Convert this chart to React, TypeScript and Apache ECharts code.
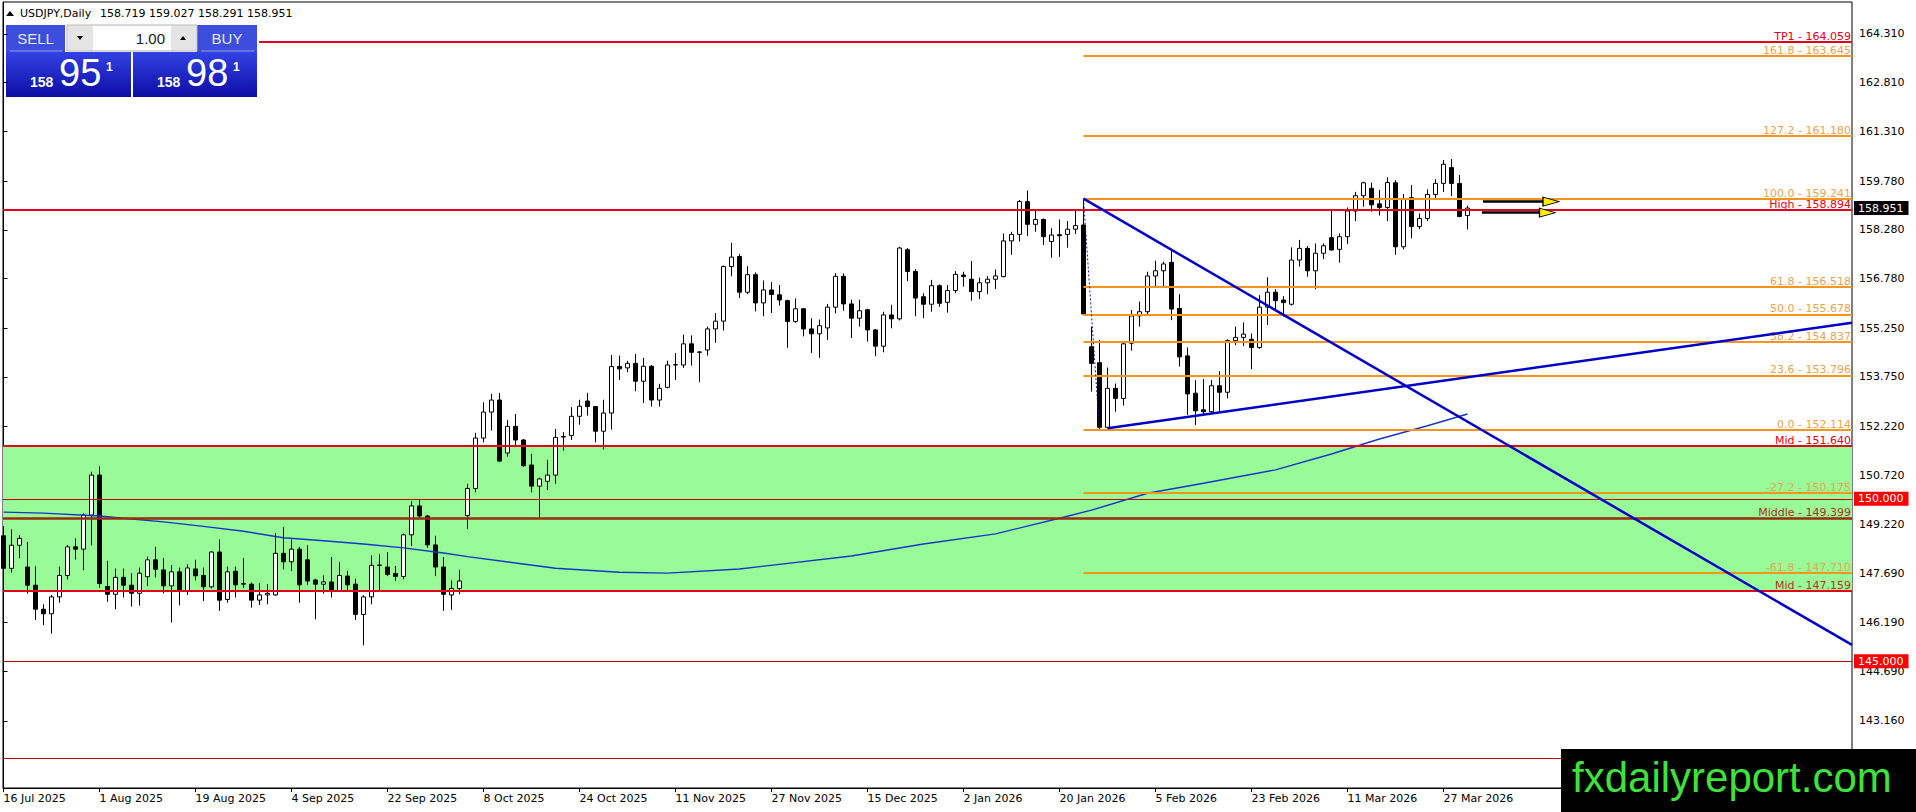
import { useEffect, useRef } from 'react';
import * as echarts from 'echarts';

const FONT = '"Liberation Sans", Arial, sans-serif';
const UI_FONT = '"DejaVu Sans", Verdana, sans-serif';

// header / trade panel
const symbolName = 'USDJPY,Daily';
const lastQuote = [158.719, 159.027, 158.291, 158.951];
const sellQuote = ['158', '95', '1'];
const buyQuote = ['158', '98', '1'];
const lotSize = '1.00';

// time axis: one label every 12 daily bars, bar 0 = 16 Jul 2025
const dateLabels = [
  '16 Jul 2025', '1 Aug 2025', '19 Aug 2025', '4 Sep 2025', '22 Sep 2025', '8 Oct 2025',
  '24 Oct 2025', '11 Nov 2025', '27 Nov 2025', '15 Dec 2025', '2 Jan 2026', '20 Jan 2026',
  '5 Feb 2026', '23 Feb 2026', '11 Mar 2026', '27 Mar 2026',
];
const labelStep = 12;

const priceTicks = [
  143.16, 144.69, 146.19, 147.69, 149.22, 150.72, 152.22, 153.75,
  155.25, 156.78, 158.28, 159.78, 161.31, 162.81, 164.31,
];

// [open, high, low, close]
const candles = [
  [148.86, 149.16, 146.91, 147.86], [147.86, 149.06, 147.73, 148.57], [148.57, 148.88, 148.17, 148.78],
  [147.90, 148.67, 147.08, 147.34], [147.34, 147.92, 146.27, 146.60], [146.60, 146.75, 146.11, 146.46],
  [146.46, 147.04, 145.85, 146.98], [146.98, 147.91, 146.80, 147.64], [147.64, 148.58, 147.52, 148.52],
  [148.52, 148.78, 148.13, 148.45], [148.45, 149.55, 147.80, 149.50], [149.50, 150.83, 148.57, 150.73],
  [150.73, 151.00, 147.26, 147.39], [147.30, 148.09, 146.83, 147.06], [147.06, 147.85, 146.60, 147.58],
  [147.58, 147.85, 146.96, 147.34], [147.34, 147.71, 146.68, 147.09], [147.09, 147.88, 146.71, 147.71],
  [147.60, 148.22, 147.32, 148.12], [148.12, 148.52, 147.58, 147.83], [147.81, 148.18, 147.09, 147.32],
  [147.32, 147.96, 146.19, 147.75], [147.75, 147.88, 146.72, 147.16], [147.16, 147.98, 147.04, 147.87],
  [147.84, 148.12, 147.49, 147.63], [147.64, 147.88, 146.85, 147.29], [147.29, 148.39, 147.24, 148.36],
  [148.36, 148.75, 146.55, 146.88], [146.90, 147.91, 146.80, 147.75], [147.77, 147.91, 146.96, 147.35],
  [147.37, 148.17, 147.26, 147.39], [147.37, 147.42, 146.65, 146.88], [146.88, 147.40, 146.73, 147.04],
  [147.04, 147.37, 146.75, 147.09], [147.04, 148.94, 147.01, 148.32], [148.32, 149.13, 147.83, 148.06],
  [148.06, 148.75, 147.78, 148.45], [148.45, 148.52, 146.80, 147.35], [148.12, 148.57, 147.35, 147.47],
  [147.50, 147.54, 146.29, 147.37], [147.37, 147.64, 147.08, 147.44], [147.44, 148.21, 146.96, 147.16],
  [147.16, 148.05, 147.14, 147.64], [147.62, 147.78, 147.16, 147.35], [147.37, 147.54, 146.27, 146.44],
  [146.44, 147.03, 145.49, 146.98], [146.98, 148.26, 146.75, 147.95], [147.95, 148.29, 147.16, 147.96],
  [147.90, 148.36, 147.62, 147.67], [147.70, 147.93, 147.47, 147.61], [147.61, 148.93, 147.52, 148.89],
  [148.89, 149.93, 148.55, 149.78], [149.78, 149.98, 149.40, 149.47], [149.47, 149.50, 148.49, 148.58],
  [148.58, 148.86, 147.62, 147.90], [147.90, 148.21, 146.55, 147.06], [147.04, 147.49, 146.58, 147.24],
  [147.24, 147.81, 147.06, 147.47], [149.48, 150.46, 149.07, 150.32], [150.32, 152.03, 150.20, 151.87],
  [151.87, 152.97, 151.74, 152.67], [152.67, 153.23, 152.10, 153.04], [153.04, 153.26, 151.13, 151.16],
  [151.41, 152.43, 151.30, 152.23], [152.23, 152.61, 151.59, 151.81], [151.81, 151.84, 150.98, 151.02],
  [151.04, 151.38, 150.20, 150.39], [150.39, 150.65, 149.43, 150.61], [150.54, 151.20, 150.27, 150.73],
  [150.73, 152.15, 150.46, 151.89], [151.90, 152.05, 151.48, 151.92], [151.95, 152.82, 151.81, 152.54],
  [152.54, 153.05, 152.28, 152.85], [153.01, 153.26, 152.56, 152.84], [152.84, 152.86, 151.74, 152.08],
  [152.08, 153.05, 151.52, 152.64], [152.64, 154.43, 152.13, 154.07], [154.07, 154.41, 153.66, 154.00],
  [154.03, 154.25, 153.90, 154.17], [154.17, 154.46, 153.31, 153.62], [153.62, 154.34, 152.95, 154.08],
  [154.08, 154.12, 152.84, 153.04], [153.04, 153.54, 152.84, 153.40], [153.43, 154.25, 153.40, 154.12],
  [154.12, 154.49, 153.66, 154.13], [154.12, 155.05, 154.03, 154.77], [154.77, 155.03, 154.10, 154.51],
  [154.51, 154.55, 153.59, 154.52], [154.58, 155.30, 154.41, 155.23], [155.23, 155.72, 154.80, 155.47],
  [155.47, 157.18, 155.18, 157.15], [157.15, 157.88, 156.85, 157.44], [157.46, 157.54, 156.18, 156.36],
  [156.36, 157.16, 156.30, 156.90], [156.90, 156.97, 155.77, 156.03], [156.03, 156.72, 155.62, 156.43],
  [156.43, 156.67, 155.72, 156.29], [156.28, 156.58, 155.95, 156.12], [156.10, 156.13, 154.65, 155.46],
  [155.46, 156.17, 155.42, 155.85], [155.85, 155.87, 155.00, 155.23], [155.23, 155.56, 154.49, 155.08],
  [155.08, 155.52, 154.34, 155.33], [155.26, 156.00, 154.89, 155.90], [155.90, 156.95, 155.71, 156.85],
  [156.85, 156.94, 155.79, 156.00], [156.00, 156.13, 154.95, 155.56], [155.56, 156.13, 155.30, 155.79],
  [155.82, 155.85, 154.84, 155.20], [155.20, 155.23, 154.39, 154.70], [154.70, 155.76, 154.51, 155.66],
  [155.66, 155.97, 155.25, 155.54], [155.54, 157.76, 155.49, 157.72], [157.67, 157.72, 156.70, 157.00],
  [157.00, 157.07, 155.62, 156.18], [156.22, 156.33, 155.56, 155.99], [155.99, 156.74, 155.76, 156.56],
  [156.56, 156.60, 155.91, 156.02], [156.05, 156.58, 155.73, 156.41], [156.41, 157.01, 156.33, 156.91],
  [156.89, 156.99, 156.53, 156.84], [156.76, 157.32, 156.10, 156.38], [156.38, 156.81, 156.15, 156.65],
  [156.65, 156.86, 156.30, 156.76], [156.76, 157.06, 156.46, 156.86], [156.84, 158.17, 156.82, 157.94],
  [157.94, 158.22, 157.51, 158.14], [158.14, 159.20, 157.92, 159.15], [159.15, 159.49, 158.09, 158.45],
  [158.45, 158.87, 158.22, 158.60], [158.60, 158.63, 157.81, 158.07], [157.92, 158.33, 157.42, 158.12],
  [158.13, 158.60, 157.45, 158.10], [158.14, 158.55, 157.73, 158.30], [158.30, 158.86, 158.15, 158.41],
  [158.43, 159.24, 155.68, 155.69], [154.68, 155.30, 153.30, 154.17], [154.19, 154.89, 152.11, 152.20],
  [152.20, 154.04, 152.17, 153.40], [153.40, 153.55, 152.68, 153.09], [153.09, 154.86, 152.87, 154.77],
  [154.79, 155.81, 154.56, 155.63], [155.63, 156.07, 155.30, 155.76], [155.76, 156.99, 155.69, 156.86],
  [156.86, 157.33, 156.53, 157.02], [157.02, 157.30, 156.53, 157.23], [157.28, 157.63, 155.50, 155.84],
  [155.86, 156.30, 154.07, 154.37], [154.40, 154.66, 152.58, 153.23], [153.25, 153.65, 152.27, 152.71],
  [152.74, 153.69, 152.61, 152.68], [152.68, 153.66, 152.62, 153.48], [153.48, 153.93, 152.68, 153.28],
  [153.28, 154.91, 153.09, 154.87], [154.87, 155.30, 154.73, 154.97], [154.97, 155.43, 154.70, 155.07],
  [154.91, 155.09, 153.99, 154.66], [154.66, 156.27, 154.62, 155.90], [155.90, 156.82, 155.35, 156.36],
  [156.36, 156.45, 155.79, 156.10], [156.12, 156.24, 155.61, 156.04], [155.99, 157.74, 155.95, 157.35],
  [157.35, 157.97, 157.15, 157.71], [157.71, 157.78, 156.84, 157.02], [157.02, 157.86, 156.45, 157.56],
  [157.56, 157.86, 157.38, 157.79], [158.04, 158.87, 157.64, 157.66], [157.68, 158.17, 157.27, 158.07],
  [158.07, 158.97, 157.84, 158.86], [158.86, 159.45, 158.55, 159.33], [159.33, 159.76, 158.99, 159.73],
  [159.56, 159.73, 158.84, 159.05], [159.08, 159.51, 158.72, 158.97], [158.97, 159.90, 158.55, 159.74],
  [159.73, 159.81, 157.51, 157.76], [157.76, 159.38, 157.68, 159.22], [159.27, 159.66, 158.02, 158.38],
  [158.38, 158.79, 158.30, 158.63], [158.63, 159.53, 158.55, 159.37], [159.37, 159.84, 159.25, 159.71],
  [159.71, 160.43, 159.45, 160.30], [160.20, 160.46, 159.32, 159.71], [159.71, 159.97, 158.67, 158.69],
  [158.719, 159.027, 158.291, 158.951],
];

// moving average: [bar, price]
const maPoints = [
  [0, 149.59], [5, 149.56], [12, 149.47], [15, 149.4], [20, 149.29], [25, 149.15], [30, 149.0],
  [35, 148.8], [40, 148.71], [45, 148.61], [50, 148.49], [55, 148.33], [58, 148.22], [69, 147.86],
  [77, 147.74], [83, 147.71], [92, 147.84], [106, 148.24], [115, 148.61], [124, 148.92],
  [132, 149.4], [136, 149.65], [143, 150.17], [150, 150.48], [159, 150.89], [166, 151.38],
  [172, 151.84], [178, 152.25], [183, 152.61],
];

// drawn objects: [bar, price]
const descLine = [[135, 159.24], [231.065, 145.5]];
const ascLine = [[138, 152.17], [231.065, 155.42]];
const fibAnchors = [[135, 159.241], [137, 152.114]];
const fibLevels = [
  [161.8, 163.645], [127.2, 161.18], [100, 159.241], [61.8, 156.518], [50, 155.678],
  [38.2, 154.837], [23.6, 153.796], [0, 152.114], [-27.2, 150.175], [-61.8, 147.71],
];
const keyLevels: [string, number][] = [
  ['TP1', 164.059], ['High', 158.894], ['Mid', 151.64], ['Middle', 149.399], ['Mid', 147.159],
];
const tp1Start = 31.94;
const taggedLevels = [150, 145];
const plainLevels = [142];
const zone = [147.159, 151.64];
// [from bar, head bar, price]
const arrows = [[184.94, 193.44, 159.15], [184.8, 193.0, 158.81]];

const X_MIN = -0.06;
const X_MAX = 231.065;
const Y_MIN = 141.096;
const Y_MAX = 165.295;

const RED = '#e3001b';
const ORANGE = '#f5951f';
const FIB_TEXT = '#eba34f';

const levelLabel = (text: string, color: string) => ({
  show: true,
  position: 'insideEndTop',
  formatter: text,
  color,
  fontFamily: UI_FONT,
  fontSize: 11,
  distance: [1, 0],
});

const axisBox = (text: string, bg: string) => ({
  show: true,
  position: 'end',
  formatter: text,
  color: '#fff',
  backgroundColor: bg,
  fontFamily: UI_FONT,
  fontSize: 11,
  lineHeight: 13,
  padding: [1, 5, 0, 4],
  distance: 2,
});

const solid = (color: string, width: number) => ({ color, width, type: 'solid' });

const buildMarkLines = () => {
  const items: any[] = [];
  plainLevels.forEach((v) => items.push({ yAxis: v, lineStyle: solid('#c00000', 1) }));
  taggedLevels.forEach((v) =>
    items.push({ yAxis: v, lineStyle: solid('#c00000', 1), label: axisBox(v.toFixed(3), '#ff0000') })
  );
  keyLevels.forEach(([name, v]) => {
    const text = `${name} - ${v.toFixed(3)}`;
    if (name === 'TP1') {
      items.push([
        { coord: [tp1Start, v], lineStyle: solid(RED, 2), label: levelLabel(text, RED) },
        { coord: [X_MAX, v] },
      ]);
    } else if (name === 'Middle') {
      items.push({ yAxis: v, lineStyle: solid('#9c2a0c', 2.5), label: levelLabel(text, '#a8321a') });
    } else {
      items.push({ yAxis: v, lineStyle: solid(RED, 2), label: levelLabel(text, v < zone[1] ? '#c62a1c' : RED) });
    }
  });
  fibLevels.forEach(([lvl, v]) => {
    items.push([
      {
        coord: [fibAnchors[0][0], v],
        lineStyle: solid(ORANGE, 2),
        label: levelLabel(`${lvl.toFixed(1)} - ${v.toFixed(3)}`, FIB_TEXT),
      },
      { coord: [X_MAX, v] },
    ]);
  });
  arrows.forEach(([x0, x1, v]) => {
    items.push([
      { coord: [x0, v], lineStyle: solid('#000', 2.5), label: { show: false } },
      { coord: [x1, v] },
    ]);
  });
  const last = lastQuote[3];
  items.push({ yAxis: last, lineStyle: solid('transparent', 0), label: axisBox(last.toFixed(3), '#000') });
  return items;
};

const buildGraphic = () => {
  const blue = '#3c4edb';
  const boxFill = new echarts.graphic.LinearGradient(0, 0, 0, 1, [
    { offset: 0, color: '#3242e4' },
    { offset: 1, color: '#0d0da4' },
  ]);
  const txt = (x: number, y: number, text: string, size: number, extra: any = {}) => ({
    type: 'text',
    x,
    y,
    silent: true,
    style: { text, fontFamily: FONT, fontSize: size, fill: '#fff', verticalAlign: 'middle', ...extra },
  });
  const quoteBox = (x: number, w: number, q: string[]) => [
    { type: 'rect', shape: { x, y: 52, width: w, height: 45 }, style: { fill: boxFill } },
    txt(x + 24, 82, q[0], 14, { fontWeight: 'bold' }),
    txt(x + 53, 73, q[1], 38),
    txt(x + 100, 67, q[2], 12, { fontWeight: 'bold' }),
  ];
  return [
    { type: 'polygon', shape: { points: [[6, 16], [10, 11], [14, 16]] }, style: { fill: '#000' } },
    txt(20, 13, symbolName, 11, { fill: '#000', fontFamily: UI_FONT }),
    txt(100, 13, lastQuote.map((v) => v.toFixed(3)).join(' '), 11, { fill: '#000', fontFamily: UI_FONT }),
    { type: 'rect', shape: { x: 6, y: 25, width: 59, height: 27 }, style: { fill: blue } },
    { type: 'line', shape: { x1: 10, y1: 51, x2: 62, y2: 51 }, style: { stroke: '#8a94e8', lineWidth: 1 } },
    txt(35.5, 38, 'SELL', 15, { fill: '#e6eaff', align: 'center' }),
    { type: 'rect', shape: { x: 197, y: 25, width: 60, height: 27 }, style: { fill: blue } },
    { type: 'line', shape: { x1: 201, y1: 51, x2: 254, y2: 51 }, style: { stroke: '#8a94e8', lineWidth: 1 } },
    txt(227, 38, 'BUY', 15, { fill: '#e6eaff', align: 'center' }),
    { type: 'rect', shape: { x: 67, y: 25, width: 130, height: 26 }, style: { fill: '#f2f2f2', stroke: '#b4b4b4', lineWidth: 1 } },
    { type: 'rect', shape: { x: 68, y: 26, width: 25, height: 24 }, style: { fill: '#e4e4e4' } },
    { type: 'rect', shape: { x: 93, y: 26, width: 78, height: 24 }, style: { fill: '#fff' } },
    { type: 'rect', shape: { x: 171, y: 26, width: 25, height: 24 }, style: { fill: '#e4e4e4' } },
    { type: 'polygon', shape: { points: [[77, 36], [83, 36], [80, 40]] }, style: { fill: '#000' } },
    { type: 'polygon', shape: { points: [[180, 40], [186, 40], [183, 36]] }, style: { fill: '#000' } },
    txt(165, 38, lotSize, 15, { fill: '#1a1a1a', align: 'right' }),
    ...quoteBox(6, 125, sellQuote),
    ...quoteBox(133, 124, buyQuote),
    { type: 'rect', shape: { x: 1561, y: 749, width: 355, height: 63 }, style: { fill: '#000' }, z: 100 },
    {
      type: 'text',
      x: 1572,
      y: 777,
      z: 101,
      silent: true,
      style: { text: 'fxdailyreport.com', fontFamily: FONT, fontSize: 42, fill: '#3ee23a', verticalAlign: 'middle' },
    },
  ];
};

export default function App() {
  const chartRef = useRef<HTMLDivElement>(null);

  useEffect(() => {
    if (!chartRef.current) return;
    const chart = echarts.init(chartRef.current, undefined, { renderer: 'svg' });
    const tickBars = dateLabels.map((_, k) => k * labelStep);

    chart.setOption({
      animation: false,
      backgroundColor: '#fff',
      grid: {
        left: 3,
        right: 64,
        top: 2,
        bottom: 24,
        show: true,
        borderColor: '#000',
        borderWidth: 1,
        backgroundColor: 'transparent',
        containLabel: false,
        outerBoundsMode: 'none',
      },
      xAxis: {
        type: 'value',
        min: X_MIN,
        max: X_MAX,
        splitLine: { show: false },
        axisLine: { show: true, onZero: false, lineStyle: { color: '#000', width: 1 } },
        axisTick: { show: true, length: 4, customValues: tickBars, lineStyle: { color: '#000' } },
        axisLabel: {
          customValues: tickBars,
          formatter: (v: number) => dateLabels[Math.round(v / labelStep)] ?? '',
          align: 'left',
          margin: 5,
          color: '#000',
          fontFamily: UI_FONT,
          fontSize: 11,
          showMinLabel: true,
          showMaxLabel: true,
        },
      },
      yAxis: {
        type: 'value',
        position: 'right',
        min: Y_MIN,
        max: Y_MAX,
        scale: true,
        splitLine: { show: false },
        axisLine: { show: true, lineStyle: { color: '#000', width: 1 } },
        axisTick: { show: true, length: 4, customValues: priceTicks, lineStyle: { color: '#000' } },
        axisLabel: {
          customValues: priceTicks,
          formatter: (v: number) => v.toFixed(3),
          margin: 7,
          color: '#000',
          fontFamily: UI_FONT,
          fontSize: 11,
        },
      },
      series: [
        {
          type: 'line',
          name: 'MA',
          data: maPoints,
          symbol: 'none',
          z: 3,
          lineStyle: { color: '#1636c8', width: 1.4 },
          markArea: {
            silent: true,
            itemStyle: { color: '#98fb98' },
            data: [[{ yAxis: zone[0] }, { yAxis: zone[1] }]],
          },
        },
        {
          type: 'candlestick',
          name: 'USDJPY',
          data: candles.map(([o, h, l, c], i) => [i, o, c, l, h]),
          dimensions: ['bar', 'open', 'close', 'lowest', 'highest'],
          encode: { x: 0, y: [1, 2, 3, 4] },
          barWidth: 5,
          z: 2,
          itemStyle: { color: '#fff', color0: '#000', borderColor: '#000', borderColor0: '#000', borderWidth: 1 },
          markLine: {
            silent: true,
            symbol: ['none', 'none'],
            label: { show: false },
            lineStyle: { type: 'solid' },
            data: buildMarkLines(),
          },
        },
        {
          type: 'line',
          name: 'trend down',
          data: descLine,
          symbol: 'none',
          z: 6,
          lineStyle: { color: '#0000c8', width: 2.5 },
        },
        {
          type: 'line',
          name: 'trend up',
          data: ascLine,
          symbol: 'none',
          z: 6,
          lineStyle: { color: '#0000c8', width: 2.5 },
        },
        {
          type: 'line',
          name: 'fib base',
          data: fibAnchors,
          symbol: 'none',
          z: 6,
          lineStyle: { color: '#1a1a9a', width: 1, type: [2, 2] },
        },
        {
          type: 'scatter',
          name: 'arrow heads',
          data: arrows.map(([, x1, v]) => [x1, v]),
          symbol: 'triangle',
          symbolSize: [9, 16],
          symbolRotate: -90,
          z: 7,
          silent: true,
          itemStyle: { color: '#ffee00', borderColor: '#000', borderWidth: 1, opacity: 1 },
        },
      ],
      graphic: buildGraphic(),
    });

    return () => {
      chart.dispose();
    };
  }, []);

  return (
    <div
      ref={chartRef}
      style={{ position: 'fixed', left: 0, top: 0, width: 1916, height: 812, background: '#fff' }}
    />
  );
}
